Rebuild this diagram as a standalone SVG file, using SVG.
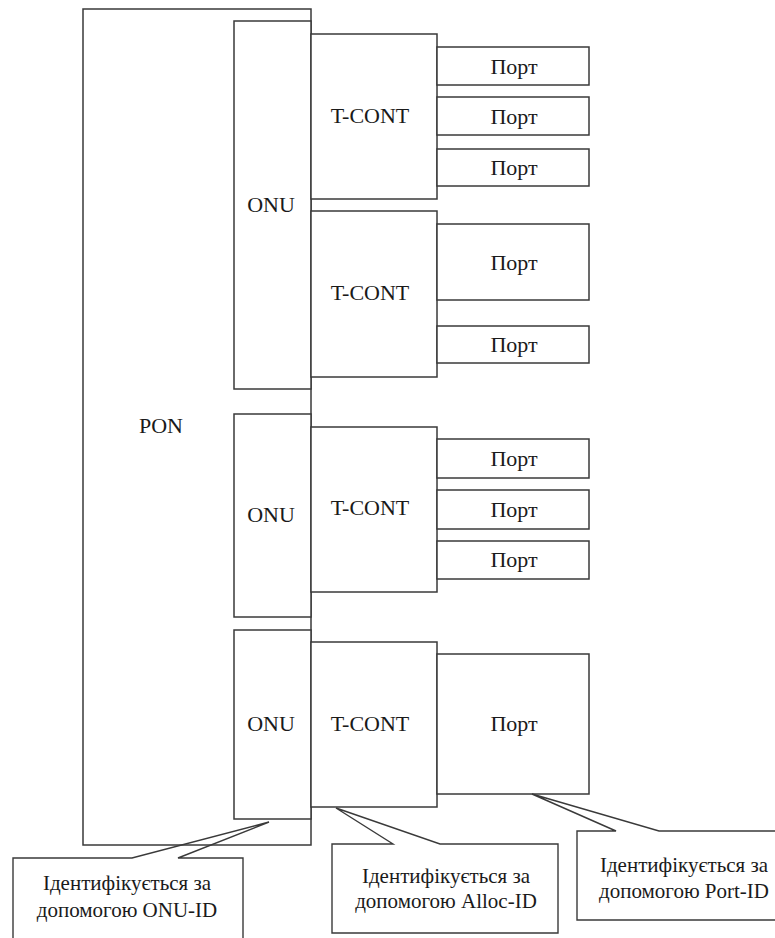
<svg xmlns="http://www.w3.org/2000/svg" width="775" height="938" viewBox="0 0 775 938">
<style>
.b{fill:#fff;stroke:#3a3a3a;stroke-width:1.5}
.c{fill:none;stroke:#3a3a3a;stroke-width:1.4;stroke-linejoin:miter}
.t{font-size:22px;fill:#1a1a1a;text-anchor:middle}
.s{font-size:21px;fill:#1a1a1a;text-anchor:middle}
</style>
<rect width="775" height="938" fill="#fff"/>
<g font-family="Liberation Serif, Times New Roman, DejaVu Serif, serif">
<g id="pon"><rect class="b" x="83" y="9" width="228" height="836"/><text class="t" x="161" y="433">PON</text></g>
<g id="onu1"><rect class="b" x="234" y="21" width="77" height="368"/><text class="t" x="271" y="212">ONU</text></g>
<g id="onu2"><rect class="b" x="234" y="414" width="77" height="203"/><text class="t" x="271" y="522">ONU</text></g>
<g id="onu3"><rect class="b" x="234" y="630" width="77" height="189"/><text class="t" x="271" y="731">ONU</text></g>
<g id="tcont1"><rect class="b" x="311" y="34" width="126" height="165"/><text class="t" x="370" y="123">T-CONT</text></g>
<g id="tcont2"><rect class="b" x="311" y="211" width="126" height="166"/><text class="t" x="370" y="300">T-CONT</text></g>
<g id="tcont3"><rect class="b" x="311" y="427" width="126" height="165"/><text class="t" x="370" y="515">T-CONT</text></g>
<g id="tcont4"><rect class="b" x="311" y="642" width="126" height="165"/><text class="t" x="370" y="731">T-CONT</text></g>
<g id="port1"><rect class="b" x="437" y="47" width="152" height="38"/><text class="t" x="514" y="74">Порт</text></g>
<g id="port2"><rect class="b" x="437" y="97" width="152" height="38"/><text class="t" x="514" y="124">Порт</text></g>
<g id="port3"><rect class="b" x="437" y="149" width="152" height="37"/><text class="t" x="514" y="175">Порт</text></g>
<g id="port4"><rect class="b" x="437" y="224" width="152" height="76"/><text class="t" x="514" y="270">Порт</text></g>
<g id="port5"><rect class="b" x="437" y="326" width="152" height="37"/><text class="t" x="514" y="352">Порт</text></g>
<g id="port6"><rect class="b" x="437" y="439" width="152" height="39"/><text class="t" x="514" y="466">Порт</text></g>
<g id="port7"><rect class="b" x="437" y="490" width="152" height="39"/><text class="t" x="514" y="517">Порт</text></g>
<g id="port8"><rect class="b" x="437" y="541" width="152" height="38"/><text class="t" x="514" y="567">Порт</text></g>
<g id="port9"><rect class="b" x="437" y="654" width="152" height="140"/><text class="t" x="514" y="731">Порт</text></g>
<g id="connectors">
<path class="c" d="M13 945 V858 H132 L269 822 L178 858 H243 V945"/>
<path class="c" d="M332 844 H393 L336 808 L440 844 H558 V933 H332 Z"/>
<path class="c" d="M785 920 H577 V831 H616 L532 794 L659 831 H785"/>
</g>
<g id="callout1"><text class="s" x="127" y="890">Ідентифікується за</text><text class="s" x="127" y="917">допомогою ONU-ID</text></g>
<g id="callout2"><text class="s" x="446" y="883">Ідентифікується за</text><text class="s" x="446" y="908">допомогою Alloc-ID</text></g>
<g id="callout3"><text class="s" x="684" y="872">Ідентифікується за</text><text class="s" x="684" y="898">допомогою Port-ID</text></g>
</g>
</svg>
